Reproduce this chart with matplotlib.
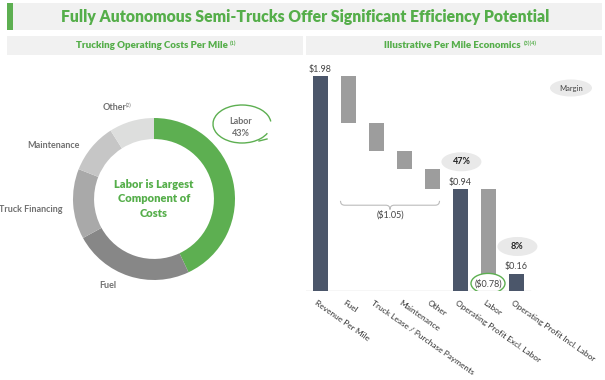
import matplotlib
matplotlib.use("Agg")
import matplotlib.pyplot as plt
from matplotlib.patches import Rectangle, Ellipse, Arc
from matplotlib.path import Path
from matplotlib.patches import PathPatch

plt.rcParams['font.family'] = ['Lato', 'DejaVu Sans']

# ---------------- data ----------------
title = "Fully Autonomous Semi-Trucks Offer Significant Efficiency Potential"
left_header = "Trucking Operating Costs Per Mile"
left_note = "(1)"
right_header = "Illustrative Per Mile Economics"
right_note = "(3)(4)"

donut_labels = ["Labor", "Fuel", "Truck Financing", "Maintenance", "Other"]
donut_values = [43, 24, 14, 10, 9]
donut_colors = ["#5DAF51", "#878787", "#A9A9A9", "#C6C6C6", "#DDDEDD"]
center_text = "Labor is Largest\nComponent of\nCosts"

wf_categories = ["Revenue Per Mile", "Fuel", "Truck Lease / Purchase Payments",
                 "Maintenance", "Other", "Operating Profit Excl. Labor",
                 "Labor", "Operating Profit Incl. Labor"]
wf_values = [1.98, -0.43, -0.26, -0.17, -0.18, 0.94, -0.78, 0.16]
wf_is_total = [True, False, False, False, False, True, False, True]
bracket_label = "($1.05)"

GREEN = "#5DAF51"
TITLE_GREEN = "#55AE4A"
DARK = "#4B566A"
GREY = "#9D9D9D"
BOX = "#F1F1F1"

W, H = 605, 380
fig = plt.figure(figsize=(W / 100, H / 100), dpi=100)

# overlay axes in pixel coordinates for frames/annotations
ov = fig.add_axes([0, 0, 1, 1])
ov.set_xlim(0, W)
ov.set_ylim(H, 0)
ov.axis('off')
ov.set_zorder(0)

ov.add_patch(Rectangle((7, 3), 595, 27, color=BOX, lw=0))
ov.add_patch(Rectangle((7, 3), 6, 27, color=GREEN, lw=0))
ov.text(305, 17, title, color=TITLE_GREEN, fontsize=11.3, fontweight='heavy',
        ha='center', va='center')
ov.add_patch(Rectangle((7, 36), 296, 19, color=BOX, lw=0))
ov.add_patch(Rectangle((306, 36), 296, 19, color=BOX, lw=0))
ov.text(152, 46, left_header, color=TITLE_GREEN, fontsize=7, fontweight='heavy',
        ha='center', va='center')
ov.text(230, 43, left_note, color=TITLE_GREEN, fontsize=4, fontweight='bold',
        ha='left', va='center')
ov.text(452, 46, right_header, color=TITLE_GREEN, fontsize=7, fontweight='heavy',
        ha='center', va='center')
ov.text(524, 43, right_note, color=TITLE_GREEN, fontsize=4, fontweight='bold',
        ha='left', va='center')

# ---------------- donut ----------------
cx, cy, R = 154, 199, 81
dax = fig.add_axes([(cx - R) / W, 1 - (cy + R) / H, 2 * R / W, 2 * R / H])
dax.pie(donut_values, colors=donut_colors, startangle=90, counterclock=False,
        radius=1, wedgeprops=dict(width=0.26, edgecolor='none'))
dax.set_xlim(-1, 1)
dax.set_ylim(-1, 1)
dax.set_aspect('auto')
dax.axis('off')
dax.text(0, 0, center_text, color=TITLE_GREEN, fontsize=8, fontweight='heavy',
         ha='center', va='center', linespacing=1.35)

lab_col = "#707070"
ov.text(115, 108, "Other", color=lab_col, fontsize=6.5, fontweight='bold', ha='center', va='center')
ov.text(126, 105, "(2)", color=lab_col, fontsize=3.5, ha='left', va='center')
ov.text(53, 145, "Maintenance", color=lab_col, fontsize=6.5, fontweight='bold', ha='center', va='center')
ov.text(31, 210, "Truck Financing", color=lab_col, fontsize=6.5, fontweight='bold', ha='center', va='center')
ov.text(108, 285, "Fuel", color=lab_col, fontsize=6.5, fontweight='bold', ha='center', va='center')

labor_pct = donut_values[donut_labels.index("Labor")]
ov.text(241, 121, "Labor", color=lab_col, fontsize=6.5, fontweight='bold', ha='center', va='center')
ov.text(241, 133, f"{labor_pct}%", color=lab_col, fontsize=6.5, fontweight='bold', ha='center', va='center')
ov.add_patch(Arc((242, 124), 58, 38, theta1=20, theta2=355, color=GREEN, lw=1.0))
ov.plot([259, 267], [141, 139], color=GREEN, lw=1.0)

# ---------------- waterfall ----------------
# pixel geometry: bar centers 320 + 28*i, baseline y=291, 108.6 px per $
x0_px, step_px, base_px, ppd = 320, 28, 291, 108.6
ax_left_px, ax_right_px, ax_top_px = 306, 602, 52
xmin = (ax_left_px - x0_px) / step_px
xmax = (ax_right_px - x0_px) / step_px
ymax = (base_px - ax_top_px) / ppd
wax = fig.add_axes([ax_left_px / W, 1 - base_px / H,
                    (ax_right_px - ax_left_px) / W, (base_px - ax_top_px) / H])
wax.set_xlim(xmin, xmax)
wax.set_ylim(0, ymax)
wax.patch.set_alpha(0)
for s in wax.spines.values():
    s.set_visible(False)
wax.set_yticks([])

bottoms, heights, colors = [], [], []
running = 0.0
for v, tot in zip(wf_values, wf_is_total):
    if tot:
        bottoms.append(0.0)
        heights.append(v)
        colors.append(DARK)
        running = v
    else:
        bottoms.append(running + v)
        heights.append(-v)
        colors.append(GREY)
        running = running + v
xs = list(range(len(wf_values)))
bw = 15 / step_px
wax.bar(xs, heights, bottom=bottoms, width=bw, color=colors, zorder=2)
last_x = (530 - x0_px) / step_px
wax.axhline(0, xmin=0, xmax=(last_x - xmin) / (xmax - xmin), color="#D5D5D5", lw=1, zorder=1)

wax.set_xticks([x - 0.08 for x in xs])
wax.set_xticklabels(wf_categories, rotation=-35, rotation_mode='anchor',
                    ha='left', va='top', fontsize=6.0, color="#333333")
wax.tick_params(axis='x', length=0, pad=6)

def money(v):
    return f"(${abs(v):.2f})" if v < 0 else f"${v:.2f}"

txt_col = "#444444"
for i, (v, tot) in enumerate(zip(wf_values, wf_is_total)):
    if tot:
        wax.text(i, v + 0.02, money(v), ha='center', va='bottom', fontsize=6.5, color=txt_col)

# labor label with green ellipse
li = wf_categories.index("Labor")
lab_y = bottoms[li] - 0.09
wax.text(li, lab_y, money(wf_values[li]), ha='center', va='center', fontsize=6.5, color=txt_col, zorder=4)
wax.add_patch(Ellipse((li, lab_y), 34 / step_px, 20 / ppd, fill=False, ec=GREEN, lw=1.0, zorder=4))

# margin bubbles
rev = wf_values[0]
for name in ["Operating Profit Excl. Labor", "Operating Profit Incl. Labor"]:
    i = wf_categories.index(name)
    v = wf_values[i]
    yb = v + 0.25
    wax.add_patch(Ellipse((i + 0.05, yb), 40 / step_px, 19 / ppd, color="#E9E9E9", lw=0, zorder=3))
    wax.text(i + 0.05, yb, f"{v / rev * 100:.0f}%", ha='center', va='center',
             fontsize=6.5, fontweight='bold', color="#222222", zorder=4)

# Margin legend bubble
mx, my = (571 - x0_px) / step_px, (base_px - 88) / ppd
wax.add_patch(Ellipse((mx, my), 42 / step_px, 17 / ppd, color="#EAEAEA", lw=0))
wax.text(mx, my, "Margin", ha='center', va='center', fontsize=5.5, color="#444444")

# bracket over the cost items
b_left = 1 - bw / 2
b_right = 4 + bw / 2
b_mid = (b_left + b_right) / 2
y_top, y_mid, y_tip = 0.83, 0.79, 0.75
codes = [Path.MOVETO, Path.CURVE3, Path.CURVE3, Path.LINETO, Path.CURVE3, Path.CURVE3,
         Path.CURVE3, Path.CURVE3, Path.LINETO, Path.CURVE3, Path.CURVE3]
dx = 0.15
verts = [(b_left, y_top), (b_left, y_mid), (b_left + dx, y_mid),
         (b_mid - dx, y_mid), (b_mid, y_mid), (b_mid, y_tip),
         (b_mid, y_mid), (b_mid + dx, y_mid),
         (b_right - dx, y_mid), (b_right, y_mid), (b_right, y_top)]
wax.add_patch(PathPatch(Path(verts, codes), fill=False, ec="#BBBBBB", lw=0.8))
wax.text(b_mid, 0.70, bracket_label, ha='center', va='center', fontsize=6.5, color=txt_col)

fig.savefig("out.png", dpi=100)
